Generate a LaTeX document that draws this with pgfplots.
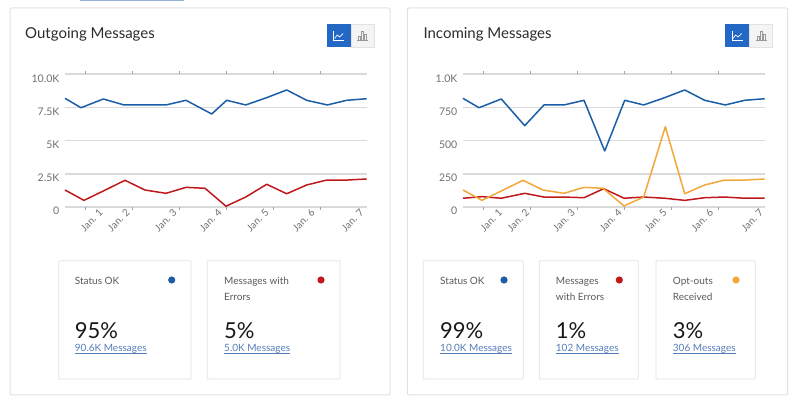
\documentclass[border=0pt]{standalone}
\usepackage{fontspec}
\setmainfont{Lato}
\usepackage{pgfplots}
\pgfplotsset{compat=1.18}
\definecolor{sblue}{RGB}{27,94,168}
\definecolor{sred}{RGB}{192,24,28}
\definecolor{sorange}{RGB}{242,168,58}
\definecolor{gridc}{RGB}{218,218,218}
\definecolor{tickc}{RGB}{112,112,112}
\definecolor{titlec}{RGB}{45,45,45}
\definecolor{linkc}{RGB}{85,125,185}
\definecolor{borderc}{RGB}{226,226,226}
\definecolor{btnblue}{RGB}{36,104,198}
\definecolor{btngrey}{RGB}{244,244,244}
\definecolor{labc}{RGB}{90,90,90}
\pgfplotsset{dash/.style={
  scale only axis, width=301.7pt, height=132.7pt, ymin=0, clip=false,
  scaled y ticks=false, scaled x ticks=false,
  axis line style={draw=none},
  ymajorgrids, major grid style={gridc, line width=1.7pt},
  major tick length=0pt, minor tick length=3pt, tick align=outside,
  minor tick style={gridc!75!black, line width=0.6pt},
  yticklabel style={font=\fontsize{10.5}{12}\selectfont, text=tickc, inner sep=0pt, anchor=east, xshift=-5.5pt, yshift=-4pt},
  xticklabel style={font=\fontsize{10}{12}\selectfont, text=tickc, inner sep=0pt, rotate=45, anchor=east},
  xticklabel shift=4pt,
  xticklabels={Jan. 1,Jan. 2,Jan. 3,Jan. 4,Jan. 5,Jan. 6,Jan. 7},
  every axis plot/.append style={line width=1.5pt, mark=none, line join=round},
}}
\begin{document}
\begin{tikzpicture}[x=1pt,y=1pt]
\useasboundingbox (0,0) rectangle (800,404);
\fill[white] (0,0) rectangle (800,404);
\fill[linkc!60] (80,402.6) rectangle (184,404);
% panels
\draw[borderc, line width=1pt, rounded corners=2pt] (10,396) rectangle (390,9);
\draw[borderc, line width=1pt, rounded corners=2pt] (407.3,396) rectangle (787.7,9);
% titles
\node[anchor=base west, inner sep=0pt, text=titlec, font=\fontsize{15}{18}\selectfont] at (25,365.5) {Outgoing Messages};
\node[anchor=base west, inner sep=0pt, text=titlec, font=\fontsize{15}{18}\selectfont] at (423.3,365.5) {Incoming Messages};
% buttons
\foreach \bx in {326.7,725} {
  \fill[btnblue] (\bx,380) rectangle ++(24,-23.3);
  \draw[borderc, fill=btngrey] (\bx+24,380) rectangle ++(23.6,-23.3);
  \draw[white, line width=0.7pt] (\bx+7,373) -- (\bx+7,363.5) -- (\bx+17.5,363.5);
  \draw[white, line width=0.7pt, line join=round] (\bx+8,365.5) -- (\bx+10.5,369) -- (\bx+13,367) -- (\bx+16.5,370.5);
  \draw[gray!80, line width=0.5pt] (\bx+30.5,363.5) -- (\bx+41.5,363.5);
  \draw[gray!80, line width=0.5pt] (\bx+32,363.5) rectangle (\bx+34,367.5);
  \draw[gray!80, line width=0.5pt] (\bx+35,363.5) rectangle (\bx+37,373);
  \draw[gray!80, line width=0.5pt] (\bx+38,363.5) rectangle (\bx+40,369.5);
}
% left chart
\begin{axis}[dash, at={(65pt,197pt)}, anchor=south west,
  xmin=65, xmax=366.7, ymax=10000,
  ytick={0,2500,5000,7500,10000}, yticklabels={0,2.5K,5K,7.5K,10.0K},
  xtick={101,128,175,220,267,313,362},
  minor xtick={85,132,179,226,273,320,367}]
\addplot[sblue] coordinates {(65,8190)(81,7480)(103.3,8140)(124,7690)(145,7690)(166,7690)(186,8040)(211.7,7010)(226.7,8040)(245.7,7690)(266.7,8240)(286.7,8820)(306.7,8040)(327.3,7690)(346.7,8040)(366.7,8160)};
\addplot[sred] coordinates {(65,1280)(84,500)(105,1270)(125,2010)(145,1280)(166,1030)(186,1480)(205,1410)(226,60)(245.7,750)(266.7,1710)(286.7,1000)(306.7,1660)(326.7,2030)(346.7,2030)(366.7,2110)};
\end{axis}
% right chart
\begin{axis}[dash, at={(463pt,197pt)}, anchor=south west,
  xmin=463, xmax=764.7, ymax=1000,
  ytick={0,250,500,750,1000}, yticklabels={0,250,500,750,1.0K},
  xtick={500.7,527.7,573.3,620,665,711.7,761.7},
  minor xtick={483,530,577,624,671,718,765}]
\addplot[sblue] coordinates {(463,819)(479,748)(501.3,814)(524.7,613)(544,769)(564,769)(584,804)(604.7,422)(624.7,804)(643.7,769)(664.7,824)(684.7,882)(704.7,804)(725.3,769)(744.7,804)(764.7,816)};
\addplot[sred] coordinates {(463,66)(482,78)(501.3,66)(524.7,103)(544,75)(564,75)(584,70)(603.7,138)(624,66)(643.7,75)(664.7,66)(684.7,50)(704.7,70)(724.7,75)(744.7,66)(764.7,66)};
\addplot[sorange] coordinates {(463,128)(482,50)(523,201)(543,128)(564,103)(584,148)(603,141)(624,8)(643.7,75)(665.3,605)(684.7,100)(704.7,166)(724.7,203)(744.7,203)(764.7,211)};
\end{axis}
% cards
\tikzset{cardbox/.style={draw=borderc, line width=0.8pt, fill=white, rounded corners=1pt},
  lab/.style={anchor=base west, inner sep=0pt, text=labc, font=\fontsize{10}{12}\selectfont},
  big/.style={anchor=base west, inner sep=0pt, text=black!90, font=\fontsize{22}{24}\selectfont},
  lnk/.style={anchor=base west, inner sep=0pt, text=linkc, font=\fontsize{10}{12}\selectfont}}
\newcommand{\lnknode}[3]{%
  \node[lnk] (#1) at (#2,52) {#3};
  \draw[linkc, line width=0.6pt] ([yshift=-1.6pt]#1.base west) -- ([yshift=-1.6pt]#1.base east);}
% left cards
\draw[cardbox] (58.7,143.3) rectangle (191,25);
\node[lab] at (74.7,119.7) {Status OK};
\fill[sblue] (171.7,124) circle (3.6);
\node[big] at (74.7,65.7) {95\%};
\lnknode{la}{74.7}{90.6K Messages}
\draw[cardbox] (207.3,143.3) rectangle (340,25);
\node[lab] at (224,119.7) {Messages with};
\node[lab] at (224,103.3) {Errors};
\fill[sred] (321,124) circle (3.6);
\node[big] at (224,65.7) {5\%};
\lnknode{lb}{224}{5.0K Messages}
% right cards
\draw[cardbox] (423.3,143.3) rectangle (523.3,25);
\node[lab] at (440,119.7) {Status OK};
\fill[sblue] (504,124) circle (3.6);
\node[big] at (440,65.7) {99\%};
\lnknode{ra}{440}{10.0K Messages}
\draw[cardbox] (539.3,143.3) rectangle (638.3,25);
\node[lab] at (555.7,119.7) {Messages};
\node[lab] at (555.7,103.3) {with Errors};
\fill[sred] (619.3,124) circle (3.6);
\node[big] at (555.7,65.7) {1\%};
\lnknode{rb}{555.7}{102 Messages}
\draw[cardbox] (656,143.3) rectangle (755.3,25);
\node[lab] at (672.7,119.7) {Opt-outs};
\node[lab] at (672.7,103.3) {Received};
\fill[sorange] (736,124) circle (3.6);
\node[big] at (672.7,65.7) {3\%};
\lnknode{rc}{672.7}{306 Messages}
\end{tikzpicture}
\end{document}
